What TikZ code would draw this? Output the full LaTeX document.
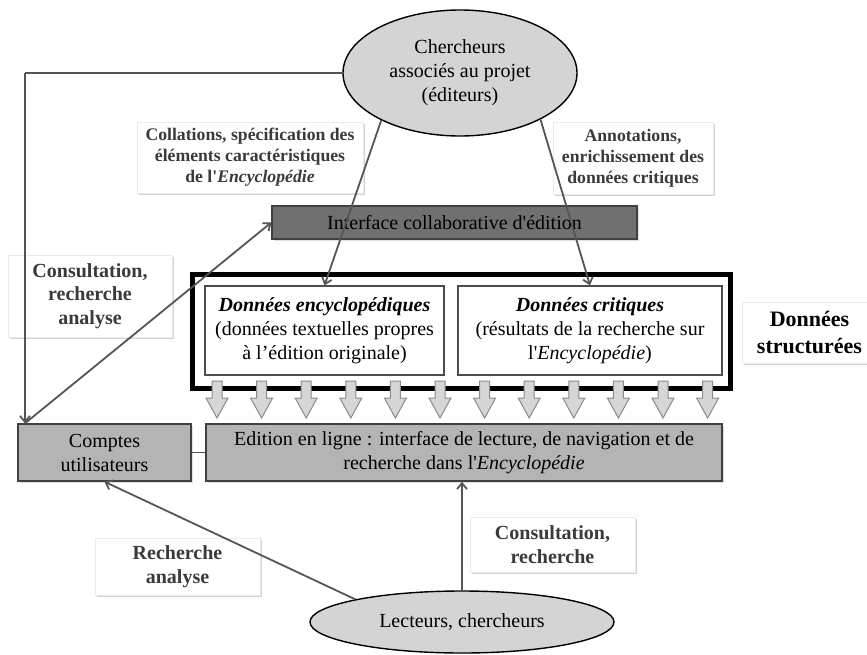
\documentclass[tikz,border=0pt]{standalone}
\usepackage{fontspec}
\setmainfont{Liberation Serif}
\usetikzlibrary{arrows.meta,shadows,shapes.geometric}
\definecolor{ellgray}{HTML}{D4D4D4}
\definecolor{boxgray}{HTML}{B4B4B4}
\definecolor{darkbox}{HTML}{707070}
\definecolor{linegray}{HTML}{555555}
\definecolor{labeltext}{HTML}{3A3A3A}
\definecolor{arrfill}{HTML}{D6D6D6}
\definecolor{arrdraw}{HTML}{8A8A8A}
\newcommand\sq{\textquotesingle}
\begin{document}
\begin{tikzpicture}[x=1pt,y=-1pt,
 ell/.style={ellipse, draw=black, line width=1.4pt, fill=ellgray, inner sep=0pt, align=center, font=\fontsize{20}{24}\selectfont},
 gbox/.style={rectangle, draw=black!75, line width=1.4pt, fill=boxgray, inner sep=0pt, align=center, font=\fontsize{20}{24}\selectfont, drop shadow={shadow xshift=1.5pt, shadow yshift=-1.5pt, opacity=0.25}},
 wbox/.style={rectangle, draw=black!70, line width=1.3pt, fill=white, inner sep=0pt, align=center, font=\fontsize{20}{24}\selectfont},
 lbl/.style={rectangle, draw=black!8, fill=white, inner sep=0pt, align=center, text=labeltext, drop shadow={shadow xshift=1.5pt, shadow yshift=-1.5pt, opacity=0.35}},
 smalllbl/.style={lbl, font=\bfseries\fontsize{17.7}{21}\selectfont},
 biglbl/.style={lbl, font=\bfseries\fontsize{20}{23.5}\selectfont},
 conn/.style={draw=linegray, line width=1.8pt},
 tip/.style={-{Straight Barb[length=6pt,width=10pt]}},
 blockarrow/.style={draw=arrdraw, fill=arrfill, line width=1pt},
]
\useasboundingbox (0,0) rectangle (867,654);

% nodes
\node[ell, minimum width=234, minimum height=126] (ch) at (460,73) {Chercheurs\\associés au projet\\(éditeurs)};
\node[smalllbl, minimum width=226, minimum height=71] (lcoll) at (250,157.5) {Collations, spécification des\\éléments caractéristiques\\de l\sq\textit{Encyclopédie}};
\node[smalllbl, minimum width=160, minimum height=72] (lannot) at (633,158) {Annotations,\\enrichissement des\\données critiques};
\node[gbox, fill=darkbox, minimum width=365, minimum height=33] (iface) at (454.5,222.5) {Interface collaborative d\sq édition};
\node[biglbl, minimum width=164, minimum height=82] (lcons) at (90,296) {Consultation,\\recherche\\analyse};

\node[draw=black, line width=4.5pt, minimum width=538, minimum height=114, inner sep=0pt] (struct) at (461.5,331.5) {};
\node[wbox, minimum width=239, minimum height=89] (enc) at (324.5,330.5) {\textbf{\textit{Données encyclopédiques}}\\(données textuelles propres\\à l’édition originale)};
\node[wbox, minimum width=264, minimum height=89] (crit) at (590,330.5) {\textbf{\textit{Données critiques}}\\(résultats de la recherche sur\\l\sq\textit{Encyclopédie})};
\node[lbl, text=black, font=\bfseries\fontsize{22}{27}\selectfont, minimum width=135, minimum height=61] (lstruct) at (809.5,332.5) {Données\\structurées};

\foreach \i in {0,...,11}{
  \pgfmathsetmacro\ax{217+44.6*\i}
  \draw[blockarrow] (\ax-5,381) -- (\ax+5,381) -- (\ax+5,398) -- (\ax+11,398) -- (\ax,418) -- (\ax-11,398) -- (\ax-5,398) -- cycle;
}

\node[gbox, minimum width=173, minimum height=57] (comptes) at (104.5,452.5) {Comptes\\utilisateurs};
\node[gbox, minimum width=516, minimum height=57] (edit) at (464,452.5) {Edition en ligne : interface de lecture, de navigation et de\\recherche dans l\sq\textit{Encyclopédie}};

\node[biglbl, minimum width=165, minimum height=57] (lrech) at (177.5,566.5) {Recherche\\analyse};
\node[biglbl, minimum width=165, minimum height=55] (lcons2) at (552.5,544.5) {Consultation,\\recherche};
\node[ell, minimum width=304, minimum height=62] (lect) at (462,622) {Lecteurs, chercheurs};

% connectors
\coordinate (cA) at (25,73);
\draw[conn] (ch.west) -- (cA);
\draw[conn,tip] (cA) -- (cA |- comptes.north);
\draw[conn,tip] (cA |- comptes.north) -- (iface.west);
\draw[conn,tip] (ch.211) -- (enc.north);
\draw[conn,tip] (ch.330) -- (crit.north);
\draw[conn,tip] (lect.168) -- (comptes.south);
\draw[conn,tip] (lect.north) -- (lect.north |- edit.south);
\draw[conn] (comptes.east) -- (edit.west);
\end{tikzpicture}
\end{document}
